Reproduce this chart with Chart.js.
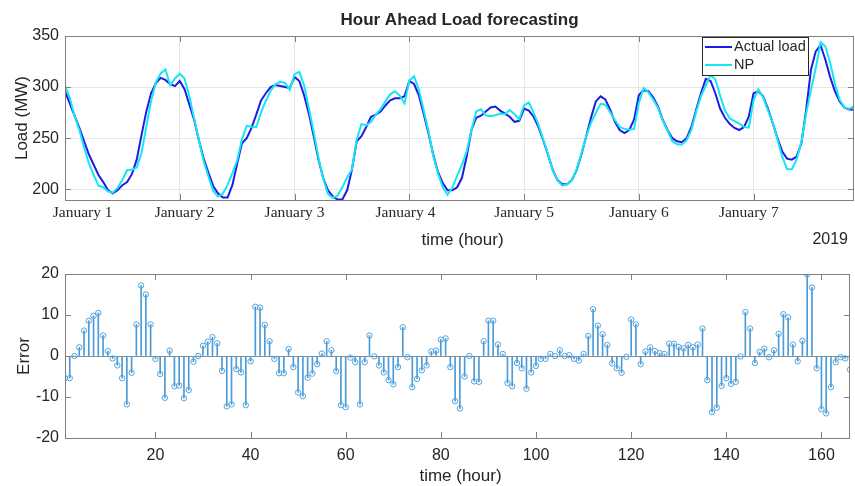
<!DOCTYPE html>
<html>
<head>
<meta charset="utf-8">
<script src="https://cdn.jsdelivr.net/npm/chart.js@4.4.0/dist/chart.umd.min.js"></script>
<style>
  html, body { margin: 0; padding: 0; background: #fff; }
  #wrap { position: relative; width: 855px; height: 486px; }
  .pane { position: absolute; left: 0; width: 855px; }
  #top { top: 0; height: 255px; }
  #bot { top: 255px; height: 231px; }
</style>
</head>
<body>
<div id="wrap">
  <div class="pane" id="top"><canvas id="loadChart"></canvas></div>
  <div class="pane" id="bot"><canvas id="errChart"></canvas></div>
</div>
<script>
// hourly values, hour 1 .. 166
const actualLoad = [
  296,284,272,260,247,234,224,214,207,199,
  196,199,204,207,215,229,253,276,294,304,
  309,307,303,301,306,298,283,268,248,230,
  216,203,196,192,192,204,225,245,250,260,
  273,287,294,300,302,301,300,299,310,306,
  292,274,252,229,211,199,193,190,190,199,
  219,247,252,261,271,273,276,282,287,289,
  289,291,306,303,292,274,255,234,217,206,
  199,199,202,211,232,258,270,272,276,280,
  281,277,274,271,266,267,279,277,271,261,
  248,234,219,209,205,205,209,219,234,252,
  270,286,291,288,278,266,258,255,258,268,
  292,297,296,290,281,268,258,250,247,246,
  250,261,278,294,308,306,294,279,270,264,
  260,258,261,271,294,296,291,279,265,250,
  237,230,229,232,245,278,317,335,341,327,
  310,296,286,280,278,278
];
const npForecast = [
  301.4,289.4,272,257.9,240.8,225.4,214.2,203.5,202,197.8,
  196.6,201.3,209.4,218.8,219.1,221.3,235.8,261,286.3,304.7,
  313.4,317.2,301.7,308.4,313.2,308.3,291.3,269.4,248,227.5,
  212.5,198.4,192.9,195.6,204.3,215.8,228.2,249,262,261.3,
  261,275.2,286.4,296.4,302.7,305.2,304.2,297.3,312.7,314.9,
  301.8,279.3,256.3,231,210.4,195.4,191.6,193.7,202,211.5,
  219.4,248.5,263.8,262.5,266,273.1,278.3,286,292.9,295.9,
  291.7,284,306.3,310.6,297.6,277.5,257.3,232.9,215.7,202,
  194.7,201.7,213,223.8,237,258,276.2,278.3,272.4,271.4,
  272.4,274.2,273.5,277.6,273.4,268.7,282,285,275,263.4,
  248.7,234.7,218.5,209,203.6,205,208.8,219.7,235.1,251.5,
  265.1,274.6,283.6,282.7,275.3,267.8,261,259.1,258.2,259.1,
  284.3,299,294.9,287.9,279.8,267.3,257.5,247,244,243.8,
  248.1,258.3,275.9,291.2,301.3,311.9,307.7,291.6,277.3,269.4,
  266.8,264.3,261.1,260.3,287.3,297.7,290,277.2,265.3,248.6,
  231.6,219.8,219.6,229.2,246.3,274.3,297.1,318.3,344,340,
  324,303.6,287.5,280.3,278.6,281.3
];
const forecastError = [
  -5.4,-5.4,0,2.1,6.2,8.6,9.8,10.5,5.0,1.2,
  -0.6,-2.3,-5.4,-11.8,-4.1,7.7,17.2,15.0,7.7,-0.7,
  -4.4,-10.2,1.3,-7.4,-7.2,-10.3,-8.3,-1.4,0,2.5,
  3.5,4.6,3.1,-3.6,-12.3,-11.8,-3.2,-4.0,-12.0,-1.3,
  12.0,11.8,7.6,3.6,-0.7,-4.2,-4.2,1.7,-2.7,-8.9,
  -9.8,-5.3,-4.3,-2.0,0.6,3.6,1.4,-3.7,-12.0,-12.5,
  -0.4,-1.5,-11.8,-1.5,5.0,-0.1,-2.3,-4.0,-5.9,-6.9,
  -2.7,7.0,-0.3,-7.6,-5.6,-3.5,-2.3,1.1,1.3,4.0,
  4.3,-2.7,-11.0,-12.8,-5.0,0,-6.2,-6.3,3.6,8.6,
  8.6,2.8,0.5,-6.6,-7.4,-1.7,-3.0,-8.0,-4.0,-2.4,
  -0.7,-0.7,0.5,0,1.4,0,0.2,-0.7,-1.1,0.5,
  4.9,11.4,7.4,5.3,2.7,-1.8,-3.0,-4.1,-0.2,8.9,
  7.7,-2.0,1.1,2.1,1.2,0.7,0.5,3.0,3.0,2.2,
  1.9,2.7,2.1,2.8,6.7,-5.9,-13.7,-12.6,-7.3,-5.4,
  -6.8,-6.3,-0.1,10.7,6.7,-1.7,1.0,1.8,-0.3,1.4,
  5.4,10.2,9.4,2.8,-1.3,3.7,19.9,16.7,-3.0,-13.0,
  -14.0,-7.6,-1.5,-0.3,-0.6,-3.3
];
const dayTicks = [1, 25, 49, 73, 97, 121, 145];
const dayLabels = ['January 1','January 2','January 3','January 4','January 5','January 6','January 7'];
const dayLabelHours = [4.7, 26, 49, 72.2, 97, 121, 144];
const loadTicks = [200, 250, 300, 350];
const errTicks = [-20, -10, 0, 10, 20];
const hourTicks = [20, 40, 60, 80, 100, 120, 140, 160];

const hours = actualLoad.map((v, i) => i + 1);
const pts = arr => arr.map((v, i) => ({ x: hours[i], y: v }));

const SANS = "'Liberation Sans', Arial, Helvetica, sans-serif";
const SERIF = "'Liberation Serif', 'Times New Roman', serif";
const TXT = '#262626';

function setTicks(list) {
  return function (scale) { scale.ticks = list.map(v => ({ value: v })); };
}

function text(ctx, s, x, y, font, align, rot) {
  ctx.save();
  ctx.font = font;
  ctx.fillStyle = TXT;
  ctx.textAlign = align || 'center';
  ctx.textBaseline = 'middle';
  ctx.translate(x, y);
  if (rot) ctx.rotate(rot);
  ctx.fillText(s, 0, 0);
  ctx.restore();
}

// matlab style box with inward tick marks
const boxTicks = {
  id: 'boxTicks',
  afterDatasetsDraw(chart) {
    const { ctx, chartArea: a, scales } = chart;
    ctx.save();
    ctx.strokeStyle = '#7f7f7f';
    ctx.lineWidth = 1;
    ctx.beginPath();
    scales.x.ticks.forEach(t => {
      const px = Math.round(scales.x.getPixelForValue(t.value)) + 0.5;
      ctx.moveTo(px, a.top); ctx.lineTo(px, a.top + 6);
      ctx.moveTo(px, a.bottom); ctx.lineTo(px, a.bottom - 6);
    });
    scales.y.ticks.forEach(t => {
      const py = Math.round(scales.y.getPixelForValue(t.value)) + 0.5;
      ctx.moveTo(a.left, py); ctx.lineTo(a.left + 6, py);
      ctx.moveTo(a.right, py); ctx.lineTo(a.right - 6, py);
    });
    ctx.stroke();
    ctx.strokeRect(Math.round(a.left) + 0.5, Math.round(a.top) + 0.5,
      Math.round(a.right - a.left) - 1, Math.round(a.bottom - a.top));
    ctx.restore();
  }
};

const loadTexts = {
  id: 'loadTexts',
  afterDraw(chart) {
    const { ctx, chartArea: a, scales } = chart;
    const mid = (a.left + a.right) / 2;
    text(ctx, 'Hour Ahead Load forecasting', mid, 20, 'bold 17px ' + SANS);
    text(ctx, 'Load (MW)', 22, (a.top + a.bottom) / 2, '17px ' + SANS, 'center', -Math.PI / 2);
    dayLabels.forEach((s, i) => {
      text(ctx, s, scales.x.getPixelForValue(dayLabelHours[i]), 213, '15.5px ' + SERIF);
    });
    text(ctx, 'time (hour)', mid + 3, 240, '17px ' + SANS);
    text(ctx, '2019', 848, 240, '16px ' + SANS, 'right');

    // legend
    ctx.save();
    ctx.fillStyle = '#fff';
    ctx.fillRect(702, 37, 106, 38);
    ctx.strokeStyle = '#262626';
    ctx.lineWidth = 1;
    ctx.strokeRect(702.5, 37.5, 106, 38);
    ctx.lineWidth = 2;
    ctx.strokeStyle = chart.data.datasets[0].borderColor;
    ctx.beginPath(); ctx.moveTo(705, 47); ctx.lineTo(732, 47); ctx.stroke();
    ctx.strokeStyle = chart.data.datasets[1].borderColor;
    ctx.beginPath(); ctx.moveTo(705, 65); ctx.lineTo(732, 65); ctx.stroke();
    ctx.restore();
    text(ctx, chart.data.datasets[0].label, 734, 47, '14.5px ' + SANS, 'left');
    text(ctx, chart.data.datasets[1].label, 734, 65, '14.5px ' + SANS, 'left');
  }
};

const errTexts = {
  id: 'errTexts',
  afterDraw(chart) {
    const { ctx, chartArea: a } = chart;
    text(ctx, 'Error', 24, (a.top + a.bottom) / 2, '17px ' + SANS, 'center', -Math.PI / 2);
    text(ctx, 'time (hour)', (a.left + a.right) / 2 + 3, 221, '17px ' + SANS);
  }
};

new Chart(document.getElementById('loadChart'), {
  type: 'line',
  data: {
    datasets: [
      { label: 'Actual load', data: pts(actualLoad), borderColor: '#1c1ce6', borderWidth: 2, pointRadius: 0, order: 1 },
      { label: 'NP', data: pts(npForecast), borderColor: '#14e6f2', borderWidth: 2, pointRadius: 0, order: 0 }
    ]
  },
  options: {
    responsive: true,
    maintainAspectRatio: false,
    animation: false,
    events: [],
    layout: { padding: { top: 36, right: 1, left: 0, bottom: 0 } },
    plugins: { legend: { display: false }, tooltip: { enabled: false } },
    scales: {
      x: {
        type: 'linear', min: 1, max: 166,
        afterBuildTicks: setTicks(dayTicks),
        afterFit(s) { s.height = 55; },
        ticks: { display: false },
        grid: { color: '#e6e6e6', drawTicks: false },
        border: { display: false }
      },
      y: {
        min: 189.5, max: 350,
        afterBuildTicks: setTicks(loadTicks),
        afterFit(s) { s.width = 65; },
        ticks: { color: TXT, padding: 6, font: { family: SANS, size: 16 } },
        grid: { color: '#e6e6e6', drawTicks: false },
        border: { display: false }
      }
    }
  },
  plugins: [boxTicks, loadTexts]
});

new Chart(document.getElementById('errChart'), {
  type: 'bar',
  data: {
    datasets: [
      { type: 'line', label: 'Error', data: pts(forecastError), showLine: false,
        pointRadius: 2.7, pointBorderWidth: 1, pointBorderColor: '#4fa3de',
        pointBackgroundColor: 'rgba(0,0,0,0)', order: 0 },
      { type: 'bar', label: 'stem', data: pts(forecastError), backgroundColor: '#4a9bd8',
        barThickness: 1, borderWidth: 0, order: 1 }
    ]
  },
  options: {
    responsive: true,
    maintainAspectRatio: false,
    animation: false,
    events: [],
    layout: { padding: { top: 19, right: 1, left: 0, bottom: 0 } },
    plugins: { legend: { display: false }, tooltip: { enabled: false } },
    scales: {
      x: {
        type: 'linear', min: 1, max: 166, offset: false,
        afterBuildTicks: setTicks(hourTicks),
        afterFit(s) { s.height = 48; },
        ticks: { color: TXT, padding: 8, maxRotation: 0, font: { family: SANS, size: 16 } },
        grid: { display: false, drawTicks: false },
        border: { display: false }
      },
      y: {
        min: -20, max: 20,
        afterBuildTicks: setTicks(errTicks),
        afterFit(s) { s.width = 65; },
        ticks: { color: TXT, padding: 6, font: { family: SANS, size: 16 } },
        grid: { drawTicks: false, color: c => (c.tick && c.tick.value === 0) ? '#8c8c8c' : 'rgba(0,0,0,0)' },
        border: { display: false }
      }
    }
  },
  plugins: [boxTicks, errTexts]
});
</script>
</body>
</html>
